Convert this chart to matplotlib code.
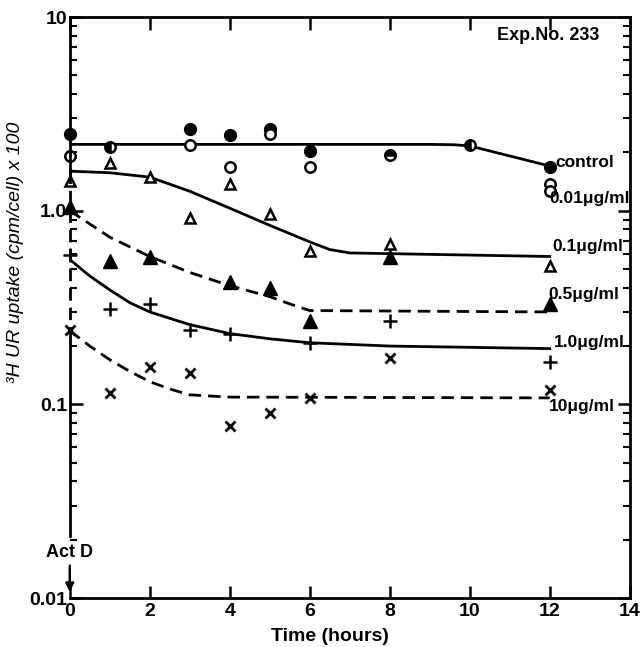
import matplotlib
matplotlib.use("Agg")
import matplotlib.pyplot as plt

plt.rcParams['font.family'] = ['Liberation Sans', 'DejaVu Sans']
plt.rcParams['font.weight'] = 'bold'

# measured points (hours, uptake)
control_t = [0, 3, 4, 5, 6, 12]
control_v = [2.5, 2.63, 2.46, 2.65, 2.03, 1.68]
d001_t = [0, 3, 4, 5, 6, 12, 12]
d001_v = [1.91, 2.18, 1.68, 2.5, 1.68, 1.37, 1.26]
shared_t = [1, 8, 10]
shared_v = [2.13, 1.95, 2.18]
shared_fill = ['left', 'top', 'left']
d01_t = [0, 1, 2, 3, 4, 5, 6, 8, 12]
d01_v = [1.42, 1.76, 1.49, 0.92, 1.37, 0.96, 0.62, 0.67, 0.515]
d05_t = [0, 1, 2, 4, 5, 6, 8, 12]
d05_v = [1.04, 0.547, 0.58, 0.427, 0.397, 0.268, 0.574, 0.328]
d1_t = [0, 1, 2, 3, 4, 6, 8, 12]
d1_v = [0.588, 0.309, 0.328, 0.243, 0.232, 0.208, 0.268, 0.166]
d10_t = [0, 1, 2, 3, 4, 5, 6, 8, 12]
d10_v = [0.243, 0.115, 0.155, 0.146, 0.0776, 0.0906, 0.108, 0.174, 0.119]

# hand-drawn curves
c_ctrl_t = [0, 9, 9.6, 10, 12]
c_ctrl_v = [2.2, 2.2, 2.19, 2.16, 1.7]
c_01_t = [0, 1, 2, 3, 4, 5, 6, 6.5, 7, 8, 12]
c_01_v = [1.6, 1.57, 1.49, 1.26, 1.03, 0.84, 0.69, 0.63, 0.605, 0.6, 0.58]
c_05_t = [0, 1, 2, 3, 4, 5, 5.5, 6, 12]
c_05_v = [1.0, 0.73, 0.58, 0.48, 0.41, 0.36, 0.33, 0.305, 0.30]
c_1_t = [0, 0.5, 1, 1.5, 2, 3, 4, 5, 6, 8, 12]
c_1_v = [0.56, 0.46, 0.39, 0.335, 0.30, 0.258, 0.232, 0.218, 0.208, 0.2, 0.194]
c_10_t = [0, 0.5, 1, 1.5, 2, 2.5, 3, 4, 12]
c_10_v = [0.24, 0.2, 0.17, 0.148, 0.131, 0.12, 0.112, 0.109, 0.108]

dose_labels = ['control', '0.01\u03bcg/ml', '0.1\u03bcg/ml', '0.5\u03bcg/ml', '1.0\u03bcg/ml', '10\u03bcg/ml']
label_t = [12.14, 12.0, 12.06, 11.96, 12.1, 11.98]
label_v = [1.78, 1.15, 0.655, 0.369, 0.209, 0.097]

fig = plt.figure(figsize=(6.4, 6.47), dpi=100)
ax = fig.add_axes([0.109, 0.0757, 0.875, 0.898])
ax.set_yscale('log')
ax.set_xlim(0, 14)
ax.set_ylim(0.01, 10)

k = 'black'
dash = (4.5, 2.5)
ax.plot(c_ctrl_t, c_ctrl_v, color=k, lw=2)
ax.plot(c_01_t, c_01_v, color=k, lw=2)
ax.plot(c_05_t, c_05_v, color=k, lw=2, dashes=dash)
ax.plot(c_1_t, c_1_v, color=k, lw=2)
ax.plot(c_10_t, c_10_v, color=k, lw=2, dashes=dash)

ms = 8.5
ax.plot(control_t, control_v, 'o', color=k, ms=ms, clip_on=False)
ax.plot(d001_t, d001_v, 'o', mfc='white', mec=k, mew=1.8, ms=ms - 1, clip_on=False)
for t, v, fs in zip(shared_t, shared_v, shared_fill):
    ax.plot(t, v, 'o', color=k, mfc=k, mfcalt='white', fillstyle=fs, mec=k, mew=1.8, ms=ms - 1)
ax.plot(d01_t, d01_v, '^', mfc='white', mec=k, mew=1.8, ms=ms - 1, clip_on=False)
ax.plot(d05_t, d05_v, '^', color=k, ms=ms + 1, clip_on=False)
ax.plot(d1_t, d1_v, '+', color=k, mew=1.8, ms=ms + 2, clip_on=False)
ax.plot(d10_t, d10_v, 'x', color=k, mew=2, ms=6.5, clip_on=False)

for s, t, v in zip(dose_labels, label_t, label_v):
    ax.text(t, v, s, fontsize=12.5, va='center', ha='left')

ax.text(0.946, 0.969, 'Exp.No. 233', transform=ax.transAxes, fontsize=13,
        ha='right', va='center')

# left axis drawn by hand: solid, dashed through the points at t=0, then Act D arrow
ax.spines['left'].set_visible(False)
ax.plot([0, 0], [10, 1.6], color=k, lw=2, clip_on=False)
ax.plot([0, 0], [1.6, 0.24], color=k, lw=2, dashes=dash, clip_on=False)
ax.plot([0, 0], [0.24, 0.021], color=k, lw=2, clip_on=False)
ax.text(0, 0.0172, 'Act D', fontsize=13, ha='center', va='center')
ax.annotate('', xy=(0, 0.0104), xytext=(0, 0.0152),
            arrowprops=dict(arrowstyle='-|>', color=k, lw=1.8, mutation_scale=12))
for s in ['top', 'right', 'bottom']:
    ax.spines[s].set_linewidth(2)

ax.set_xticks(range(0, 15, 2))
ax.set_yticks([0.01, 0.1, 1, 10])
ax.set_yticklabels(['0.01', '0.1', '1.0', '10'])
ax.tick_params(axis='both', which='major', direction='in', width=1.8, length=9,
               labelsize=14, top=True, right=True)
ax.tick_params(axis='y', which='minor', direction='in', width=1.5, length=5,
               right=True, labelleft=True)
ax.tick_params(axis='y', which='major', pad=2)
ax.yaxis.set_minor_formatter(matplotlib.ticker.NullFormatter())

fig.text(0.515, 0.017, 'Time (hours)', fontsize=14, ha='center', va='center')
fig.text(0.025, 1 - 252 / 647, '\u00b3H UR uptake (cpm/cell) x 100', fontsize=14,
         style='italic', fontweight='normal', rotation=90, ha='center', va='center')

fig.savefig('out.png', dpi=100)
